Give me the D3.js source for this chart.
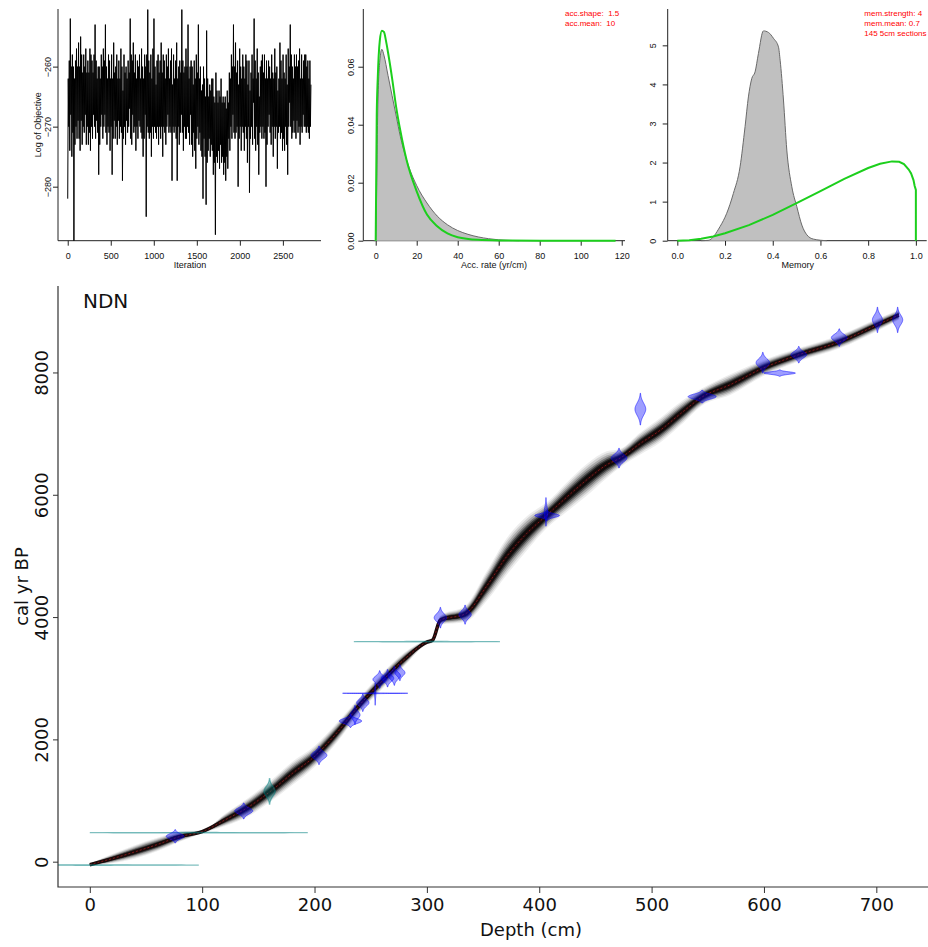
<!DOCTYPE html>
<html>
<head>
<meta charset="utf-8">
<script src="https://cdn.jsdelivr.net/npm/d3@7"></script>
<style>
  html, body { margin: 0; padding: 0; background: #fff; }
  svg { display: block; }
</style>
</head>
<body>
<svg id="chart" width="928" height="947"></svg>
<script>
// ---------------- DATA ----------------
// Panel 1: MCMC log-objective trace (one value every traceStep iterations)
const traceStep = 6;
const traceValues = [
  -282,-262,-270,-259,-274,-252,-268,-260,-275,-258,-271,-260,-289,-262,-273,-259,-270,-257,-272,-260,
  -269,-256,-272,-260,-274,-255,-269,-258,-273,-261,-270,-258,-271,-260,-268,-257,-273,-261,-270,-259,
  -273,-261,-271,-257,-274,-258,-270,-259,-272,-261,-268,-258,-270,-253,-272,-259,-269,-262,-271,-260,
  -278,-260,-273,-262,-270,-258,-268,-260,-272,-257,-270,-259,-268,-253,-271,-260,-273,-262,-270,-258,
  -271,-259,-274,-262,-270,-258,-278,-262,-272,-256,-269,-261,-272,-260,-270,-258,-273,-262,-269,-259,
  -272,-262,-270,-257,-271,-260,-279,-264,-272,-258,-270,-261,-273,-260,-269,-262,-271,-259,-270,-261,
  -267,-252,-272,-258,-273,-259,-268,-256,-271,-261,-270,-258,-274,-262,-270,-259,-272,-260,-269,-258,
  -270,-262,-271,-257,-272,-260,-275,-262,-272,-258,-268,-260,-285,-258,-270,-250.5,-271,-259,-272,-261,
  -271,-258,-275,-262,-270,-257,-272,-252,-270,-260,-271,-263,-272,-259,-270,-258,-273,-261,-270,-259,
  -272,-256,-270,-261,-275,-258,-270,-259,-271,-262,-273,-258,-270,-260,-268,-257,-271,-262,-270,-259,
  -271,-257,-279,-263,-270,-258,-271,-262,-270,-259,-272,-256,-279,-262,-270,-260,-273,-259,-271,-261,
  -268,-250.5,-271,-259,-274,-261,-270,-260,-272,-257,-272,-260,-270,-253,-271,-262,-273,-260,-268,-259,
  -273,-260,-275,-263,-271,-259,-274,-262,-277,-258,-272,-261,-270,-253,-273,-262,-271,-260,-274,-264,
  -275,-263,-282,-260,-272,-262,-275,-265,-283,-254,-276,-262,-274,-265,-272,-263,-275,-264,-273,-262,
  -274,-262,-278,-265,-276,-266,-288,-261,-275,-264,-276,-266,-274,-264,-277,-265,-273,-262,-276,-266,
  -275,-265,-278,-266,-276,-265,-279,-267,-275,-264,-277,-266,-272,-261,-274,-262,-270,-258,-272,-260,
  -268,-253,-271,-260,-272,-256,-271,-261,-270,-259,-280,-263,-272,-257,-270,-260,-274,-262,-270,-258,
  -271,-260,-274,-262,-270,-258,-272,-259,-276,-263,-270,-259,-281,-264,-272,-261,-270,-258,-273,-262,
  -266,-252,-272,-259,-274,-262,-270,-257,-273,-261,-278,-265,-271,-260,-270,-259,-272,-258,-270,-261,
  -272,-258,-271,-262,-280,-259,-273,-262,-270,-259,-268,-260,-271,-262,-273,-258,-270,-261,-275,-262,
  -270,-257,-272,-261,-270,-260,-277,-264,-271,-262,-270,-256,-272,-259,-271,-262,-274,-258,-272,-261,
  -274,-262,-270,-258,-273,-263,-278,-257,-270,-260,-266,-253,-270,-258,-272,-260,-271,-262,-269,-258,
  -271,-260,-272,-258,-269,-260,-271,-259,-270,-257,-273,-262,-270,-258,-271,-262,-268,-259,-270,-258,
  -270,-258,-271,-260,-270,-259,-271,-262,-272,-259,-270,-263
];
const traceXTicks = [0, 500, 1000, 1500, 2000, 2500];
const traceYTicks = [-260, -270, -280];

// Panel 2: accumulation rate (posterior = grey, prior = green)
const accPostX = [-1, 0, 0.5, 1, 2, 3, 4, 6, 8, 10, 12, 15, 20, 25, 30, 35, 40, 45, 50, 55, 60, 65, 70];
const accPostY = [0, 0, 0.02, 0.045, 0.062, 0.066, 0.064, 0.057, 0.050, 0.043, 0.036, 0.028, 0.019, 0.013, 0.0085, 0.0055, 0.0035, 0.0022, 0.0013, 0.0007, 0.0003, 0.0001, 0];
const accPriorX = [0, 0.5, 1, 2, 3, 4, 5, 6, 8, 10, 12, 15, 20, 25, 30, 35, 40, 50, 60, 80, 117];
const accPriorY = [0, 0.043, 0.056, 0.069, 0.0724, 0.072, 0.069, 0.065, 0.056, 0.046, 0.038, 0.028, 0.017, 0.009, 0.005, 0.0025, 0.0012, 0.0003, 0.0001, 0, 0];
const accXTicks = [0, 20, 40, 60, 80, 100, 120];
const accYTicks = [0, 0.02, 0.04, 0.06];
const accLabels = ["acc.shape:  1.5", "acc.mean:  10"];

// Panel 3: memory (posterior = grey, prior = green)
const memPostX = [0.10, 0.13, 0.179, 0.207, 0.235, 0.263, 0.284, 0.298, 0.312, 0.326, 0.340, 0.361, 0.382, 0.403, 0.424, 0.431, 0.445, 0.459, 0.480, 0.501, 0.522, 0.543, 0.571, 0.627];
const memPostY = [0, 0.01, 0.36, 0.70, 1.21, 1.89, 2.92, 3.68, 4.15, 4.32, 4.79, 5.37, 5.33, 5.18, 4.96, 4.62, 3.60, 2.32, 1.38, 0.87, 0.40, 0.15, 0.04, 0];
const memPriorX = [0, 0.05, 0.1, 0.15, 0.2, 0.3, 0.4, 0.5, 0.6, 0.7, 0.8, 0.85, 0.9, 0.93, 0.95, 0.97, 0.98, 0.99, 0.995, 1.0, 1.0];
const memPriorY = [0, 0.01, 0.05, 0.11, 0.19, 0.40, 0.66, 0.96, 1.27, 1.58, 1.86, 1.97, 2.03, 2.02, 1.96, 1.82, 1.72, 1.55, 1.40, 1.30, 0];
const memXTicks = [0, 0.2, 0.4, 0.6, 0.8, 1.0];
const memYTicks = [0, 1, 2, 3, 4, 5];
const memLabels = ["mem.strength: 4", "mem.mean: 0.7", "145 5cm sections"];

// Main panel: age-depth model
const coreName = "NDN";
const depthGrid = [0,10,20,40,60,80,100,120,140,160,180,200,220,240,260,280,300,305,312,334,353,371,389,407,425,442,460,472,490,508,526,545,570,599,631,667,701,720];
const ageMean   = [-50,0,50,160,280,410,490,680,880,1140,1440,1720,2110,2560,2950,3310,3590,3620,3950,4050,4500,4990,5370,5670,5970,6240,6490,6600,6840,7060,7330,7600,7800,8070,8290,8500,8780,8940];
const ageSpread = [20,50,75,110,110,85,25,100,150,170,190,170,160,125,130,110,40,40,75,130,240,300,280,210,240,260,220,150,180,200,190,140,170,130,110,110,100,80];

// Calibrated dates (blue): depth, central age, spread (yr), drawn half-width (cm)
const dateDepth = [76,137,204,232,236,243,254,254,258,265,271,276,312,334,407,406,471,490,545,599,614,631,667,701,719];
const dateAge   = [415,830,1740,2300,2400,2600,2754,2740,2980,3000,3040,3090,3990,4040,5660,5720,6600,7400,7605,8160,7990,8290,8570,8860,8860];
const dateSd    = [42,50,58,40,60,55,3,70,55,55,60,50,65,60,30,90,62,100,40,65,20,52,55,80,80];
const dateWidth = [8,8,7,10,4.5,5.5,29,0.6,6,5.5,5.5,4.5,5.5,5.5,11,1.5,7,4.8,12.5,6,14,7,7,4.5,4.5];

// Other dates (teal)
const otherDepth = [3, 97, 160, 300];
const otherAge   = [-55, 474, 1150, 3598];
const otherSd    = [2, 2, 80, 2];
const otherWidth = [94, 97, 5, 65];

const depthTicks = [0, 100, 200, 300, 400, 500, 600, 700];
const ageTicks = [0, 2000, 4000, 6000, 8000];

// ---------------- DRAWING ----------------
const svg = d3.select("#chart");
const SMALL = "'Liberation Sans', Arial, sans-serif";
const BIG = "'DejaVu Sans', Verdana, sans-serif";

function smallPanel(opts) {
  const g = svg.append("g");
  const x = d3.scaleLinear().domain(opts.xd).range([opts.left, opts.right]);
  const y = d3.scaleLinear().domain(opts.yd).range([opts.bottom, opts.top]);
  g.append("path")
    .attr("d", `M${opts.left},${opts.top}V${opts.bottom}H${opts.right}`)
    .attr("fill", "none").attr("stroke", "#222").attr("stroke-width", 1);
  const xa = g.append("g").attr("transform", `translate(0,${opts.bottom})`)
    .call(d3.axisBottom(x).tickValues(opts.xt).tickSize(5).tickFormat(opts.xf));
  xa.select(".domain").remove();
  xa.selectAll("line").attr("stroke", "#222");
  xa.selectAll("text").attr("font-family", SMALL).attr("font-size", 9).attr("fill", "#111")
    .attr("y", 18).attr("dy", 0);
  const ya = g.append("g").attr("transform", `translate(${opts.left},0)`)
    .call(d3.axisLeft(y).tickValues(opts.yt).tickSize(5).tickFormat(opts.yf));
  ya.select(".domain").remove();
  ya.selectAll("line").attr("stroke", "#222");
  ya.selectAll("text").attr("font-family", SMALL).attr("font-size", 9).attr("fill", "#111")
    .attr("transform", "rotate(-90)").attr("x", 0).attr("y", -opts.ylabOff).attr("dy", 0)
    .attr("text-anchor", "middle");
  g.append("text").attr("x", opts.xlabX).attr("y", 267.5).attr("text-anchor", "middle")
    .attr("font-family", SMALL).attr("font-size", 9).attr("fill", "#111").text(opts.xlab);
  if (opts.ylab) {
    g.append("text").attr("transform", `translate(${opts.ylabX},${(opts.top + opts.bottom) / 2}) rotate(-90)`)
      .attr("text-anchor", "middle").attr("font-family", SMALL).attr("font-size", 9).attr("fill", "#111")
      .text(opts.ylab);
  }
  return { g, x, y };
}

// Panel 1 ----
{
  const p = smallPanel({
    left: 58, right: 321, top: 9, bottom: 240.7,
    xd: [-113, 2943], yd: [-289.0, -250.4],
    xt: traceXTicks, yt: traceYTicks, xf: d3.format("d"), yf: d3.format("d"),
    ylabOff: 7.5, xlab: "Iteration", xlabX: 190, ylab: "Log of Objective", ylabX: 41
  });
  const line = d3.line().x((d, i) => p.x(i * traceStep)).y(d => p.y(d));
  p.g.append("path").datum(traceValues).attr("d", line)
    .attr("fill", "none").attr("stroke", "#000").attr("stroke-width", 1);
}

// Panel 2 ----
{
  const p = smallPanel({
    left: 363.3, right: 625, top: 9, bottom: 240.7,
    xd: [-6.05, 121.6], yd: [0, 0.0799],
    xt: accXTicks, yt: accYTicks, xf: d3.format("d"), yf: d3.format(".2f"),
    ylabOff: 9.3, xlab: "Acc. rate (yr/cm)", xlabX: 494
  });
  const post = accPostX.map((v, i) => [v, accPostY[i]]);
  p.g.append("path").datum(post)
    .attr("d", d3.line().x(d => p.x(d[0])).y(d => p.y(d[1])).curve(d3.curveMonotoneX))
    .attr("fill", "#c0c0c0").attr("stroke", "#6a6a6a").attr("stroke-width", 1);
  const prior = accPriorX.map((v, i) => [v, accPriorY[i]]);
  p.g.append("path").datum(prior)
    .attr("d", d3.line().x(d => p.x(d[0])).y(d => p.y(d[1])).curve(d3.curveMonotoneX))
    .attr("fill", "none").attr("stroke", "#1ccf1c").attr("stroke-width", 2);
  accLabels.forEach((t, i) => {
    p.g.append("text").attr("x", 565).attr("y", 16 + i * 10)
      .attr("font-family", SMALL).attr("font-size", 8).attr("fill", "#f00")
      .style("white-space", "pre").text(t);
  });
}

// Panel 3 ----
{
  const p = smallPanel({
    left: 667.7, right: 926.7, top: 9, bottom: 240.7,
    xd: [-0.0403, 1.0454], yd: [0, 5.93],
    xt: memXTicks, yt: memYTicks, xf: d3.format(".1f"), yf: d3.format("d"),
    ylabOff: 11.5, xlab: "Memory", xlabX: 797.7
  });
  const post = memPostX.map((v, i) => [v, memPostY[i]]);
  p.g.append("path").datum(post)
    .attr("d", d3.line().x(d => p.x(d[0])).y(d => p.y(d[1])).curve(d3.curveMonotoneX))
    .attr("fill", "#c0c0c0").attr("stroke", "#6a6a6a").attr("stroke-width", 1);
  const prior = memPriorX.map((v, i) => [v, memPriorY[i]]);
  p.g.append("path").datum(prior)
    .attr("d", d3.line().x(d => p.x(d[0])).y(d => p.y(d[1])))
    .attr("fill", "none").attr("stroke", "#1ccf1c").attr("stroke-width", 2);
  memLabels.forEach((t, i) => {
    p.g.append("text").attr("x", 864.3).attr("y", 15.5 + i * 10.3)
      .attr("font-family", SMALL).attr("font-size", 8).attr("fill", "#f00").text(t);
  });
}

// Main panel ----
{
  const L = 58, R = 928, T = 286, B = 887;
  const x = d3.scaleLinear().domain([-28.3, 746]).range([L, R]);
  const y = d3.scaleLinear().domain([-414, 9414]).range([B, T]);
  const g = svg.append("g");

  svg.append("defs").append("clipPath").attr("id", "mainclip")
    .append("rect").attr("x", L).attr("y", T).attr("width", R - L).attr("height", B - T);
  const plot = g.append("g").attr("clip-path", "url(#mainclip)");

  // age-depth model cloud
  const pts = depthGrid.map((d, i) => ({ d, m: ageMean[i], s: ageSpread[i] }));
  const layers = [
    { f: 1.00, o: 0.07 }, { f: 0.85, o: 0.12 }, { f: 0.70, o: 0.19 },
    { f: 0.55, o: 0.30 }, { f: 0.42, o: 0.48 }, { f: 0.30, o: 0.68 }, { f: 0.18, o: 0.85 }
  ];
  layers.forEach(l => {
    const area = d3.area().x(p => x(p.d))
      .y0(p => y(p.m - p.s * l.f)).y1(p => y(p.m + p.s * l.f))
      .curve(d3.curveMonotoneX);
    plot.append("path").datum(pts).attr("d", area).attr("fill", "#000").attr("opacity", l.o);
  });
  plot.append("path").datum(pts)
    .attr("d", d3.line().x(p => x(p.d)).y(p => y(p.m)).curve(d3.curveMonotoneX))
    .attr("fill", "none").attr("stroke", "#1a0a0a").attr("stroke-width", 3.5);
  plot.append("path").datum(pts)
    .attr("d", d3.line().x(p => x(p.d)).y(p => y(p.m)).curve(d3.curveMonotoneX))
    .attr("fill", "none").attr("stroke", "#c02020").attr("stroke-width", 1)
    .attr("stroke-dasharray", "2,2").attr("opacity", 0.6);

  // date distributions
  function distPath(dep, mu, sd, w) {
    const ts = d3.range(-2.6, 2.6001, 0.1);
    const right = ts.map(t => [x(dep + w * Math.exp(-t * t / 2)), y(mu + t * sd)]);
    const left = ts.slice().reverse().map(t => [x(dep - w * Math.exp(-t * t / 2)), y(mu + t * sd)]);
    return d3.line()(right.concat(left)) + "Z";
  }
  otherDepth.forEach((d, i) => {
    plot.append("path").attr("d", distPath(d, otherAge[i], otherSd[i], otherWidth[i]))
      .attr("fill", "rgba(0,128,128,0.35)").attr("stroke", "rgba(0,128,128,0.5)").attr("stroke-width", 1.2);
  });
  dateDepth.forEach((d, i) => {
    plot.append("path").attr("d", distPath(d, dateAge[i], dateSd[i], dateWidth[i]))
      .attr("fill", "rgba(0,0,255,0.38)").attr("stroke", "rgba(0,0,255,0.5)").attr("stroke-width", 1);
  });

  // axes
  g.append("path").attr("d", `M${L},${T}V${B}H${R}`).attr("fill", "none").attr("stroke", "#333").attr("stroke-width", 1.2);
  const xa = g.append("g").attr("transform", `translate(0,${B})`)
    .call(d3.axisBottom(x).tickValues(depthTicks).tickSize(6).tickFormat(d3.format("d")));
  xa.select(".domain").remove();
  xa.selectAll("line").attr("stroke", "#333");
  xa.selectAll("text").attr("font-family", BIG).attr("font-size", 18).attr("fill", "#111")
    .attr("y", 24).attr("dy", 0);
  const ya = g.append("g").attr("transform", `translate(${L},0)`)
    .call(d3.axisLeft(y).tickValues(ageTicks).tickSize(5).tickFormat(d3.format("d")));
  ya.select(".domain").remove();
  ya.selectAll("line").attr("stroke", "#333");
  ya.selectAll("text").attr("font-family", BIG).attr("font-size", 18).attr("fill", "#111")
    .attr("transform", "rotate(-90)").attr("x", 0).attr("y", -10).attr("dy", 0).attr("text-anchor", "middle");

  g.append("text").attr("x", 531).attr("y", 936).attr("text-anchor", "middle")
    .attr("font-family", BIG).attr("font-size", 18).attr("fill", "#111").text("Depth (cm)");
  g.append("text").attr("transform", `translate(28,${(T + B) / 2}) rotate(-90)`).attr("text-anchor", "middle")
    .attr("font-family", BIG).attr("font-size", 18).attr("fill", "#111").text("cal yr BP");
  g.append("text").attr("x", 83).attr("y", 308)
    .attr("font-family", BIG).attr("font-size", 20).attr("fill", "#111").text(coreName);
}
</script>
</body>
</html>
